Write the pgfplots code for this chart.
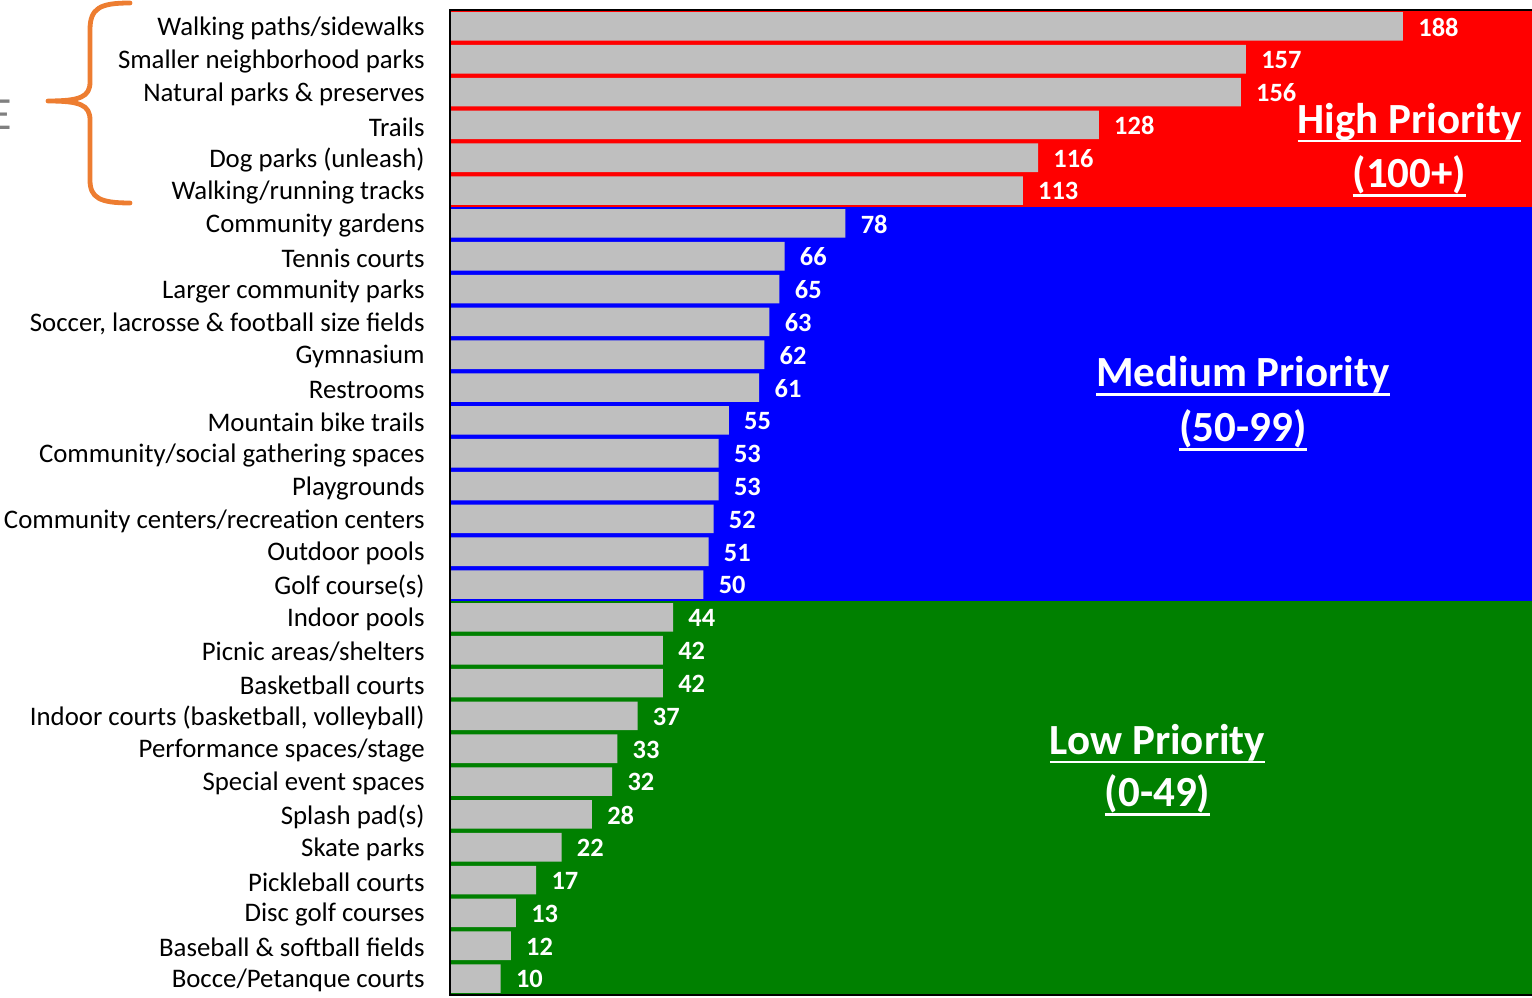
\documentclass[border=0pt]{standalone}
\usepackage{fontspec}
\setmainfont{Carlito}
\usepackage{pgfplots}
\pgfplotsset{compat=1.18}
\definecolor{barGray}{HTML}{BFBFBF}
\definecolor{bandRed}{HTML}{FF0000}
\definecolor{bandBlue}{HTML}{0000FF}
\definecolor{bandGreen}{HTML}{008000}
\definecolor{braceOrange}{HTML}{ED7D31}
% heavy underline for the band titles
\newcommand{\heavyul}[1]{\setbox0\hbox{#1}\rlap{\rule[-4.6pt]{\wd0}{1.35pt}}\box0}

\begin{document}
\begin{tikzpicture}
\begin{axis}[
  at={(225pt,1pt)}, anchor=south west,
  scale only axis, width=541pt, height=492.5pt,
  xmin=0, xmax=213.45,
  ymin=-0.5, ymax=29.5, y dir=reverse,
  xtick=\empty,
  ytick={0,...,29},
  yticklabels={Walking paths/sidewalks, Smaller neighborhood parks, Natural parks \& preserves, Trails, Dog parks (unleash), Walking/running tracks, Community gardens, Tennis courts, Larger community parks, {Soccer, lacrosse \& football size fields}, Gymnasium, Restrooms, Mountain bike trails, Community/social gathering spaces, Playgrounds, Community centers/recreation centers, Outdoor pools, Golf course(s), Indoor pools, Picnic areas/shelters, Basketball courts, {Indoor courts (basketball, volleyball)}, Performance spaces/stage, Special event spaces, Splash pad(s), Skate parks, Pickleball courts, Disc golf courses, Baseball \& softball fields, Bocce/Petanque courts},
  major tick length=0pt,
  axis line style={draw=none},
  yticklabel style={font=\fontsize{13.4}{14}\selectfont, inner sep=0pt, xshift=-12.5pt, yshift=-1pt},
  /pgf/number format/assume math mode=true,
  clip=false,
]
% priority bands
\fill[bandRed]   (axis cs:0,-0.5) rectangle (axis cs:213.45,5.5);
\fill[bandBlue]  (axis cs:0,5.5)  rectangle (axis cs:213.45,17.5);
\fill[bandGreen] (axis cs:0,17.5) rectangle (axis cs:213.45,29.5);

\addplot[xbar, bar width=0.87, fill=barGray, draw=none,
  nodes near coords, point meta=x,
  every node near coord/.append style={font=\fontsize{13.2}{14}\selectfont\bfseries, text=white, anchor=west, inner sep=0pt, xshift=7.5pt, yshift=-0.4pt}]
coordinates {
(188,0) (157,1) (156,2) (128,3) (116,4) (113,5)
(78,6) (66,7) (65,8) (63,9) (62,10) (61,11) (55,12) (53,13) (53,14) (52,15) (51,16) (50,17)
(44,18) (42,19) (42,20) (37,21) (33,22) (32,23) (28,24) (22,25) (17,26) (13,27) (12,28) (10,29)
};

\begin{scope}[every node/.style={text=white, font=\fontsize{21.5}{24}\selectfont\bfseries, inner sep=0pt, anchor=base}]
\node at (axis cs:189.28,3.246) {\heavyul{High Priority}};
\node at (axis cs:189.28,4.921) {\heavyul{(100+)}};
\node at (axis cs:156.44,10.97) {\heavyul{Medium Priority}};
\node at (axis cs:156.44,12.65) {\heavyul{(50-99)}};
\node at (axis cs:139.57,22.16) {\heavyul{Low Priority}};
\node at (axis cs:139.57,23.76) {\heavyul{(0-49)}};
\end{scope}

% frame: left, top, bottom
\draw[line width=1.1pt, black] (rel axis cs:1,0) -- (rel axis cs:0,0) -- (rel axis cs:0,1) -- (rel axis cs:1,1);
\end{axis}

% brace and clipped heading letter
\begin{scope}[x=0.5pt, y=-0.5pt, yshift=498.5pt]
\draw[braceOrange, line width=2.4pt, line cap=round, line join=round]
  (130,3) .. controls (100,3) and (90,8) .. (90,30) -- (90,82)
  .. controls (90,97) and (80,101) .. (48,101)
  .. controls (80,101) and (90,105) .. (90,120) -- (90,180)
  .. controls (90,198) and (100,203) .. (130,203);
\node[anchor=base east, inner sep=0pt, text=black!50] at (12,130) {\fontsize{23}{23}\selectfont E};
\end{scope}

\pgfresetboundingbox
\path[use as bounding box] (0,0) rectangle (766pt,498.5pt);
\end{tikzpicture}
\end{document}
